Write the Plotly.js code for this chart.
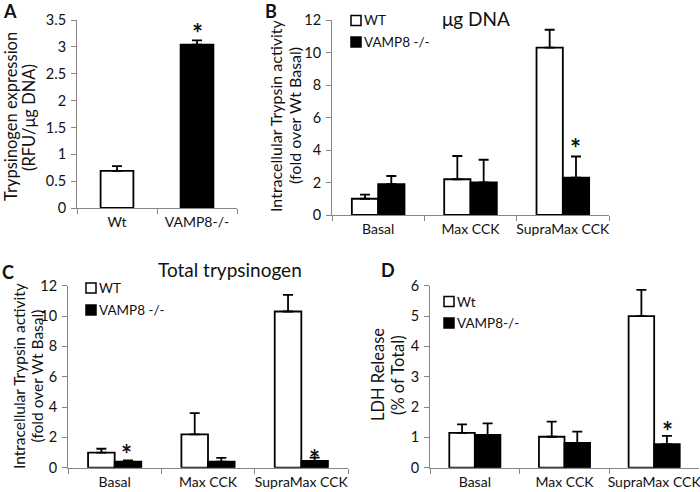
<!DOCTYPE html>
<html><head><meta charset="utf-8">
<script src="https://cdn.jsdelivr.net/npm/plotly.js-dist-min@3.0.1/plotly.min.js"></script>
<style>html,body{margin:0;padding:0;background:#fff}#chart{width:700px;height:492px}</style>
</head><body><div id="chart"></div>
<script>
// ---- Data ----
const groupsA = ['Wt', 'VAMP8-/-'];
const valuesA = [0.69, 3.04];
const errorsA = [0.09, 0.08];

const conditions = ['Basal', 'Max CCK', 'SupraMax CCK'];

const wtB = [1.0, 2.2, 10.3];
const wtBErr = [0.25, 1.43, 1.1];
const koB = [1.9, 2.0, 2.3];
const koBErr = [0.5, 1.4, 1.3];

const wtC = [1.0, 2.2, 10.3];
const wtCErr = [0.25, 1.4, 1.1];
const koC = [0.4, 0.4, 0.45];
const koCErr = [0.08, 0.25, 0.22];

const wtD = [1.15, 1.02, 5.0];
const wtDErr = [0.28, 0.5, 0.86];
const koD = [1.08, 0.82, 0.78];
const koDErr = [0.38, 0.37, 0.27];

const legendBC = ['WT', 'VAMP8 -/-'];
const legendD = ['Wt', 'VAMP8-/-'];

// ---- Helpers ----
const FONT = 'Lato, "Open Sans", sans-serif';
const W = 700, H = 492;
const px = x => x / W;
const py = y => 1 - y / H;

function barTrace(x, y, err, fill, xa, ya, name, extra) {
  return Object.assign({
    type: 'bar', x: x, y: y, name: name, xaxis: xa, yaxis: ya,
    marker: {color: fill, line: {color: '#000', width: 1.8}},
    error_y: {type: 'data', symmetric: false, array: err, arrayminus: err.map(() => 0),
              color: '#000', thickness: 1.8, width: 5},
    showlegend: false, hoverinfo: 'skip'
  }, extra || {});
}

const data = [
  barTrace(groupsA, valuesA, errorsA, ['#fff', '#000'], 'x', 'y', 'A', {width: 0.41}),
  barTrace(conditions, wtB, wtBErr, '#fff', 'x2', 'y2', legendBC[0]),
  barTrace(conditions, koB, koBErr, '#000', 'x2', 'y2', legendBC[1]),
  barTrace(conditions, wtC, wtCErr, '#fff', 'x3', 'y3', legendBC[0]),
  barTrace(conditions, koC, koCErr, '#000', 'x3', 'y3', legendBC[1]),
  barTrace(conditions, wtD, wtDErr, '#fff', 'x4', 'y4', legendD[0]),
  barTrace(conditions, koD, koDErr, '#000', 'x4', 'y4', legendD[1])
];

const axisBase = {
  showline: true, linecolor: '#868686', linewidth: 1,
  ticks: 'outside', ticklen: 5, tickcolor: '#868686', tickwidth: 1,
  showgrid: false, zeroline: false, fixedrange: true,
  tickfont: {family: FONT, size: 14.5, color: '#111'}
};
function xAx(domain, anchor) {
  return Object.assign({}, axisBase, {domain: domain, anchor: anchor, type: 'category',
    tickson: 'boundaries', tickangle: 0, ticklabelstandoff: 1,
    tickfont: {family: FONT, size: 14, color: '#111'}});
}
function yAx(domain, anchor, range, dtick) {
  return Object.assign({}, axisBase, {domain: domain, anchor: anchor, range: range, dtick: dtick, tick0: 0, ticklabelstandoff: 2});
}

const layout = {
  width: W, height: H,
  margin: {l: 0, r: 0, t: 0, b: 0},
  paper_bgcolor: '#fff', plot_bgcolor: 'rgba(0,0,0,0)',
  barmode: 'group', bargap: 0.43, bargroupgap: 0,
  showlegend: false,
  font: {family: FONT, color: '#111'},
  xaxis: xAx([px(77), px(237)], 'y'),
  yaxis: yAx([py(208), py(20)], 'x', [0, 3.5], 0.5),
  xaxis2: xAx([px(332), px(609)], 'y2'),
  yaxis2: yAx([py(215), py(20)], 'x2', [0, 12], 2),
  xaxis3: xAx([px(68), px(348)], 'y3'),
  yaxis3: yAx([py(467.7), py(285.7)], 'x3', [0, 12], 2),
  xaxis4: xAx([px(430), px(699)], 'y4'),
  yaxis4: yAx([py(467.7), py(285.7)], 'x4', [0, 6], 1),
  shapes: [],
  annotations: []
};

const ann = layout.annotations;
function paperText(text, x, y, size, opts) {
  ann.push(Object.assign({
    text: text, xref: 'paper', yref: 'paper', x: px(x), y: py(y),
    xanchor: 'center', yanchor: 'middle', showarrow: false,
    font: {family: FONT, size: size, color: '#111'}
  }, opts || {}));
}
// Panel letters
paperText('<b>A</b>', 10, 11.5, 18);
paperText('<b>B</b>', 271, 11, 18);
paperText('<b>C</b>', 8, 272, 18);
paperText('<b>D</b>', 388, 270, 18);
// Panel titles
paperText('μg DNA', 476, 18, 19);
paperText('Total trypsinogen', 230, 269, 19);
// Y-axis titles (one annotation per line)
function yTitle(lines, xs, y, size) {
  lines.forEach((t, i) => paperText(t, xs[i], y, size, {textangle: -90}));
}
yTitle(['Trypsinogen expression', '(RFU/μg DNA)'], [11, 29], 117, 16.5);
yTitle(['Intracellular Trypsin activity', '(fold over Wt Basal)'], [275, 294], 116, 16);
yTitle(['Intracellular Trypsin activity', '(fold over Wt Basal)'], [19, 36.5], 376, 15.5);
yTitle(['LDH Release', '(% of Total)'], [378, 398], 375, 16.5);

// Legends (drawn boxes + labels)
function legendItem(label, fill, sx, cy, tx) {
  layout.shapes.push({type: 'rect', xref: 'paper', yref: 'paper',
    x0: px(sx), x1: px(sx + 10), y0: py(cy + 5), y1: py(cy - 5),
    fillcolor: fill, line: {color: '#000', width: 1.5}});
  paperText(label, tx, cy, 13.5, {xanchor: 'left'});
}
legendItem(legendBC[0], '#fff', 351, 20.5, 362);
legendItem(legendBC[1], '#000', 351, 42, 362);
legendItem(legendBC[0], '#fff', 86, 288, 97);
legendItem(legendBC[1], '#000', 86, 310, 97);
legendItem(legendD[0], '#fff', 444, 301.5, 455);
legendItem(legendD[1], '#000', 444, 323, 455);

// Significance asterisks
function star(xa, ya, cat, yval, shift) {
  ann.push({text: '<b>*</b>', xref: xa, yref: ya, x: cat, y: yval, xshift: shift, yshift: -6.5,
    xanchor: 'center', yanchor: 'middle', showarrow: false, borderpad: 0,
    font: {family: FONT, size: 26, color: '#111'}});
}
star('x', 'y', groupsA[1], 3.37, 0);
star('x2', 'y2', conditions[2], 4.5, 13);
star('x3', 'y3', conditions[0], 1.3, 12);
star('x3', 'y3', conditions[2], 1.0, 13);
star('x4', 'y4', conditions[2], 1.41, 13);

Plotly.newPlot('chart', data, layout, {staticPlot: true, displayModeBar: false});
</script>
</body></html>
